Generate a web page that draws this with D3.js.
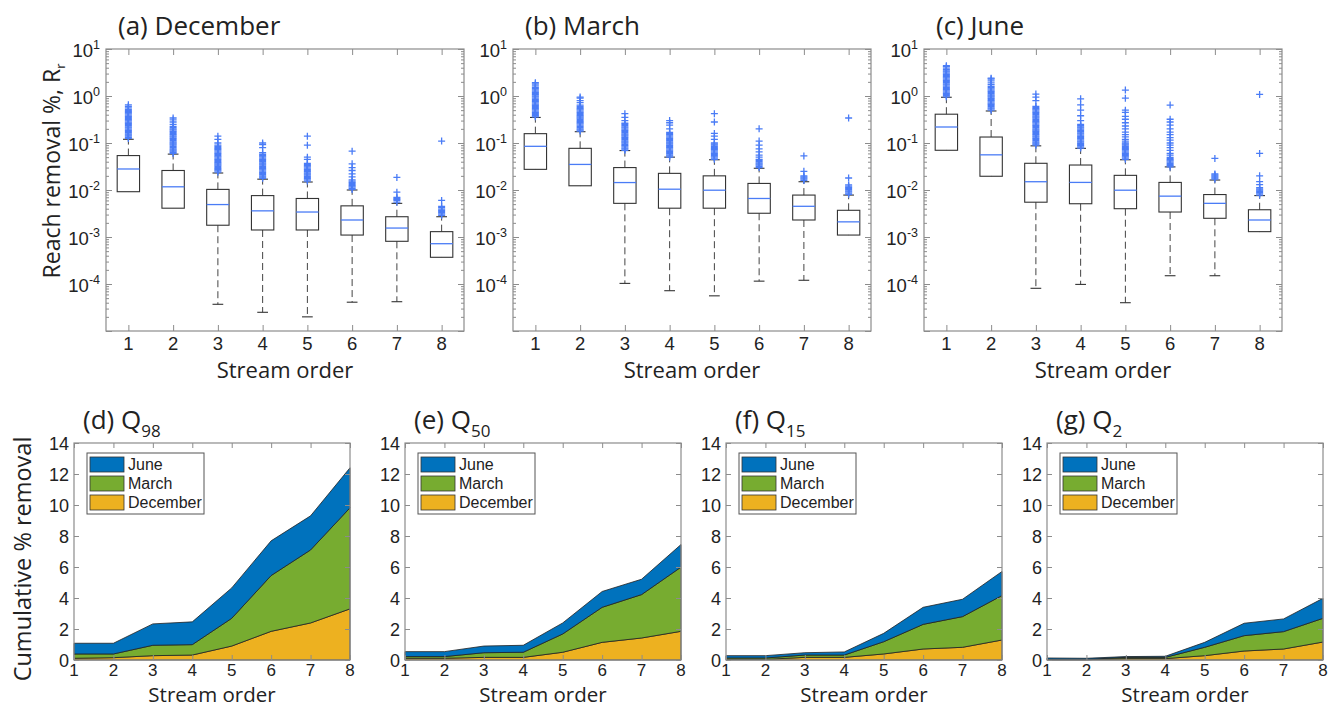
<!DOCTYPE html>
<html>
<head>
<meta charset="utf-8">
<script src="https://cdn.jsdelivr.net/npm/d3@7"></script>
<style>
  body { margin: 0; background: #fff; }
  svg { display: block; }
</style>
</head>
<body>
<div id="chart"></div>
<script>
// ---------------------------
// data
// ---------------------------
const orders = [1, 2, 3, 4, 5, 6, 7, 8];
const months = ["December", "March", "June"];

// (a) December box stats, per stream order
const decQ1  = [0.0092, 0.0041, 0.00178, 0.00141, 0.00141, 0.0011, 0.00081, 0.00037];
const decMed = [0.028, 0.0117, 0.0049, 0.0036, 0.0034, 0.0023, 0.00155, 0.00072];
const decQ3  = [0.054, 0.026, 0.0103, 0.0076, 0.0066, 0.0046, 0.0027, 0.0013];
const decLo  = [0.0092, 0.0041, 3.7e-5, 2.5e-5, 2.0e-5, 4.1e-5, 4.2e-5, 0.00037];
const decHi  = [0.12, 0.058, 0.023, 0.017, 0.0148, 0.01, 0.0052, 0.0027];
const decOut = [
  [0.125,0.132,0.14,0.148,0.157,0.166,0.176,0.186,0.197,0.209,0.221,0.234,0.248,0.263,0.278,0.295,0.312,0.33,0.35,0.37,0.39,0.415,0.44,0.465,0.49,0.52,0.56,0.6,0.65],
  [0.06,0.0635,0.067,0.071,0.075,0.08,0.085,0.09,0.095,0.1,0.106,0.112,0.119,0.126,0.133,0.141,0.15,0.159,0.168,0.178,0.19,0.2,0.212,0.225,0.25,0.28,0.31,0.34],
  [0.024,0.0254,0.027,0.0285,0.03,0.032,0.034,0.036,0.038,0.04,0.0425,0.045,0.0477,0.0505,0.0535,0.057,0.06,0.064,0.068,0.072,0.076,0.08,0.085,0.09,0.1,0.12,0.14],
  [0.0178,0.0189,0.02,0.0212,0.0225,0.0238,0.0252,0.0267,0.0283,0.03,0.0318,0.0337,0.0357,0.0378,0.04,0.0425,0.045,0.0477,0.0505,0.0535,0.057,0.062,0.08,0.092,0.1],
  [0.0155,0.0164,0.0174,0.0184,0.0195,0.0207,0.0219,0.0232,0.0246,0.026,0.0276,0.0292,0.031,0.0328,0.0348,0.037,0.045,0.05,0.09,0.14],
  [0.0103,0.0109,0.0116,0.0123,0.013,0.0138,0.0146,0.0155,0.0164,0.019,0.022,0.026,0.03,0.036,0.067],
  [0.0055,0.006,0.0063,0.0066,0.007,0.009,0.0185],
  [0.0029,0.0031,0.0033,0.0035,0.0037,0.0039,0.0042,0.0045,0.006,0.11]
];

// (b) March
const marQ1  = [0.0275, 0.0123, 0.0052, 0.0041, 0.0041, 0.0032, 0.0023, 0.0011];
const marMed = [0.085, 0.035, 0.0144, 0.0104, 0.0099, 0.0066, 0.0045, 0.0021];
const marQ3  = [0.158, 0.077, 0.030, 0.0226, 0.020, 0.0138, 0.0078, 0.0037];
const marLo  = [0.0275, 0.0123, 1.03e-4, 7.2e-5, 5.6e-5, 1.15e-4, 1.2e-4, 0.0011];
const marHi  = [0.35, 0.174, 0.069, 0.050, 0.044, 0.029, 0.015, 0.0078];
const marOut = [
  [0.36,0.38,0.4,0.425,0.45,0.477,0.505,0.535,0.567,0.6,0.636,0.674,0.714,0.757,0.8,0.85,0.9,0.955,1.01,1.07,1.13,1.2,1.27,1.35,1.43,1.52,1.65,1.8,1.92],
  [0.18,0.19,0.2,0.213,0.226,0.24,0.254,0.27,0.285,0.3,0.32,0.34,0.36,0.38,0.4,0.425,0.45,0.477,0.505,0.535,0.567,0.6,0.64,0.72,0.8,0.9,0.95],
  [0.07,0.074,0.078,0.083,0.088,0.093,0.099,0.105,0.111,0.118,0.125,0.132,0.14,0.148,0.157,0.166,0.176,0.186,0.197,0.209,0.221,0.234,0.248,0.263,0.3,0.35,0.42],
  [0.05,0.053,0.056,0.0595,0.063,0.0668,0.0708,0.075,0.0795,0.0843,0.0893,0.0947,0.1,0.106,0.112,0.119,0.126,0.134,0.142,0.15,0.159,0.168,0.2,0.24,0.27,0.3],
  [0.045,0.0477,0.0505,0.0535,0.057,0.06,0.064,0.068,0.072,0.076,0.08,0.085,0.09,0.095,0.1,0.12,0.14,0.16,0.28,0.42],
  [0.03,0.0318,0.0337,0.0357,0.0378,0.04,0.0425,0.045,0.05,0.055,0.065,0.075,0.09,0.11,0.2],
  [0.016,0.017,0.018,0.019,0.02,0.025,0.053],
  [0.0081,0.0086,0.0091,0.0096,0.0102,0.0108,0.0114,0.0121,0.0128,0.018,0.34]
];

// (c) June
const junQ1  = [0.070, 0.0196, 0.0055, 0.0051, 0.0040, 0.0034, 0.0025, 0.0013];
const junMed = [0.219, 0.056, 0.015, 0.0145, 0.0099, 0.0074, 0.0052, 0.0023];
const junQ3  = [0.41, 0.134, 0.037, 0.034, 0.0205, 0.0145, 0.0080, 0.0038];
const junLo  = [0.070, 0.0196, 8.1e-5, 9.8e-5, 4.0e-5, 1.5e-4, 1.5e-4, 0.0013];
const junHi  = [0.94, 0.48, 0.087, 0.077, 0.044, 0.031, 0.0163, 0.0076];
const junOut = [
  [0.96,1.02,1.08,1.14,1.21,1.28,1.36,1.44,1.53,1.62,1.72,1.82,1.93,2.04,2.16,2.29,2.43,2.57,2.73,2.89,3.06,3.25,3.44,3.65,3.9,4.2,4.4],
  [0.5,0.53,0.56,0.595,0.63,0.668,0.708,0.75,0.795,0.843,0.893,0.947,1.0,1.06,1.12,1.19,1.26,1.34,1.42,1.5,1.6,1.75,1.9,2.1,2.3,2.4],
  [0.09,0.095,0.1,0.106,0.112,0.119,0.126,0.133,0.141,0.15,0.159,0.168,0.178,0.189,0.2,0.212,0.225,0.238,0.252,0.267,0.283,0.3,0.318,0.337,0.357,0.378,0.4,0.425,0.45,0.477,0.505,0.535,0.567,0.6,0.8,0.95,1.1],
  [0.078,0.0827,0.0877,0.093,0.0985,0.104,0.11,0.117,0.124,0.131,0.139,0.147,0.156,0.165,0.175,0.186,0.197,0.209,0.221,0.234,0.25,0.3,0.38,0.5,0.65,0.87],
  [0.045,0.0477,0.0505,0.0535,0.057,0.06,0.064,0.068,0.072,0.076,0.08,0.085,0.09,0.095,0.1,0.11,0.12,0.135,0.15,0.17,0.2,0.23,0.27,0.32,0.37,0.45,0.5,0.9,1.34],
  [0.031,0.0329,0.0348,0.0369,0.0391,0.0415,0.044,0.0466,0.0494,0.055,0.06,0.07,0.08,0.09,0.1,0.115,0.13,0.15,0.17,0.2,0.24,0.28,0.32,0.64],
  [0.017,0.018,0.019,0.02,0.021,0.022,0.047],
  [0.0078,0.0083,0.0088,0.0094,0.01,0.0106,0.0112,0.013,0.015,0.02,0.06,1.08]
];

// (d)-(g) stacked cumulative % removal, layer thickness per month
const q98Dec = [0.11, 0.15, 0.28, 0.32, 0.90, 1.85, 2.39, 3.30];
const q98Mar = [0.28, 0.24, 0.67, 0.67, 1.79, 3.60, 4.71, 6.52];
const q98Jun = [0.69, 0.69, 1.38, 1.47, 1.96, 2.24, 2.20, 2.58];

const q50Dec = [0.11, 0.11, 0.17, 0.17, 0.50, 1.14, 1.42, 1.85];
const q50Mar = [0.11, 0.11, 0.30, 0.33, 1.18, 2.26, 2.80, 4.14];
const q50Jun = [0.32, 0.32, 0.43, 0.45, 0.71, 1.02, 0.99, 1.46];

const q15Dec = [0.04, 0.04, 0.17, 0.17, 0.39, 0.71, 0.82, 1.29];
const q15Mar = [0.09, 0.09, 0.15, 0.15, 0.79, 1.59, 1.98, 2.87];
const q15Jun = [0.15, 0.15, 0.15, 0.20, 0.54, 1.10, 1.12, 1.55];

const q2Dec = [0.02, 0.02, 0.09, 0.09, 0.28, 0.58, 0.71, 1.16];
const q2Mar = [0.02, 0.02, 0.08, 0.08, 0.54, 0.99, 1.12, 1.53];
const q2Jun = [0.09, 0.07, 0.05, 0.07, 0.32, 0.80, 0.82, 1.29];

const cumTicks = [0, 2, 4, 6, 8, 10, 12, 14];

// ---------------------------
// styling
// ---------------------------
const colors = { December: "#EDB120", March: "#77AC30", June: "#0072BD" };
const outBlue = "#4a7cf6";
const frameCol = "#8c8c8c";
const labelFont = "'Open Sans', 'Noto Sans', sans-serif";
const tickFont = "'Liberation Sans', Arial, sans-serif";

const svg = d3.select("#chart")
  .append("svg")
  .attr("width", 1328)
  .attr("height", 708)
  .attr("viewBox", [0, 0, 1328, 708]);

svg.append("rect").attr("width", 1328).attr("height", 708).attr("fill", "#fff");

// top row
const topCfg = { top: 49, width: 358, height: 282 };
make_boxPanel({ ...topCfg, left: 106 }, "(a) December",
  { q1: decQ1, med: decMed, q3: decQ3, lo: decLo, hi: decHi, out: decOut }, true);
make_boxPanel({ ...topCfg, left: 513 }, "(b) March",
  { q1: marQ1, med: marMed, q3: marQ3, lo: marLo, hi: marHi, out: marOut }, false);
make_boxPanel({ ...topCfg, left: 924 }, "(c) June",
  { q1: junQ1, med: junMed, q3: junQ3, lo: junLo, hi: junHi, out: junOut }, false);

// bottom row
const botCfg = { top: 443, width: 276, height: 217 };
make_areaPanel({ ...botCfg, left: 74 }, "(d) Q", "98", [q98Dec, q98Mar, q98Jun], true);
make_areaPanel({ ...botCfg, left: 405 }, "(e) Q", "50", [q50Dec, q50Mar, q50Jun], false);
make_areaPanel({ ...botCfg, left: 726 }, "(f) Q", "15", [q15Dec, q15Mar, q15Jun], false);
make_areaPanel({ ...botCfg, left: 1047 }, "(g) Q", "2", [q2Dec, q2Mar, q2Jun], false);


function make_boxPanel(cfg, title, st, withYLabel) {
  const x = d3.scaleLinear([0.5, 8.5], [cfg.left, cfg.left + cfg.width]);
  const y = d3.scaleLog([1e-5, 10], [cfg.top + cfg.height, cfg.top]);
  const g = svg.append("g");

  // log ticks
  const major = d3.range(-5, 2).map(k => Math.pow(10, k));
  const minor = [];
  for (let k = -5; k < 1; k++) {
    for (let m = 2; m <= 9; m++) minor.push(m * Math.pow(10, k));
  }

  svg_ticks(g, d3.axisLeft(y).tickValues(major).tickSizeInner(-6), `translate(${cfg.left},0)`);
  svg_ticks(g, d3.axisLeft(y).tickValues(minor).tickSizeInner(-3), `translate(${cfg.left},0)`);
  svg_ticks(g, d3.axisRight(y).tickValues(major).tickSizeInner(-6), `translate(${cfg.left + cfg.width},0)`);
  svg_ticks(g, d3.axisRight(y).tickValues(minor).tickSizeInner(-3), `translate(${cfg.left + cfg.width},0)`);
  svg_ticks(g, d3.axisBottom(x).tickValues(orders).tickSizeInner(-6), `translate(0,${cfg.top + cfg.height})`);
  svg_ticks(g, d3.axisTop(x).tickValues(orders).tickSizeInner(-6), `translate(0,${cfg.top})`);

  // frame
  g.append("rect")
    .attr("x", cfg.left).attr("y", cfg.top)
    .attr("width", cfg.width).attr("height", cfg.height)
    .attr("fill", "none").attr("stroke", frameCol).attr("stroke-width", 1.2);

  // y labels 10^k
  const yl = g.append("g")
    .selectAll("text")
    .data(d3.range(-4, 2))
    .join("text")
    .attr("x", cfg.left - 6)
    .attr("y", k => y(Math.pow(10, k)) + 8)
    .attr("text-anchor", "end")
    .style("font-family", tickFont)
    .style("font-size", "18.5px")
    .attr("fill", "#222");
  yl.append("tspan").text("10");
  yl.append("tspan").attr("dy", -8).style("font-size", "12.5px").text(k => k < 0 ? "-" + (-k) : "" + k);

  // x labels
  g.append("g")
    .selectAll("text")
    .data(orders)
    .join("text")
    .attr("x", d => x(d))
    .attr("y", cfg.top + cfg.height + 19)
    .attr("text-anchor", "middle")
    .style("font-family", tickFont)
    .style("font-size", "18.5px")
    .attr("fill", "#222")
    .text(d => d);

  g.append("text")
    .attr("x", cfg.left + cfg.width / 2)
    .attr("y", 378)
    .attr("text-anchor", "middle")
    .style("font-family", labelFont)
    .style("font-size", "22px")
    .attr("fill", "#222")
    .text("Stream order");

  g.append("text")
    .attr("x", cfg.left + 12)
    .attr("y", 35)
    .style("font-family", labelFont)
    .style("font-size", "26px")
    .attr("fill", "#222")
    .text(title);

  if (withYLabel) {
    const t = g.append("text")
      .attr("transform", `translate(60,${cfg.top + 122}) rotate(-90)`)
      .attr("text-anchor", "middle")
      .style("font-family", labelFont)
      .style("font-size", "23px")
      .attr("fill", "#222");
    t.append("tspan").text("Reach removal %, R");
    t.append("tspan").attr("dy", 5).style("font-size", "13px").text("r");
  }

  // boxes
  const bw = 0.25, cw = 0.12;
  const boxes = g.append("g").selectAll("g").data(orders).join("g");

  // whiskers (dashed)
  boxes.append("line")
    .attr("x1", d => x(d)).attr("x2", d => x(d))
    .attr("y1", (d, i) => y(st.q3[i])).attr("y2", (d, i) => y(st.hi[i]))
    .attr("stroke", "#444").attr("stroke-width", 1).attr("stroke-dasharray", "7,4");
  boxes.append("line")
    .attr("x1", d => x(d)).attr("x2", d => x(d))
    .attr("y1", (d, i) => y(st.q1[i])).attr("y2", (d, i) => y(st.lo[i]))
    .attr("stroke", "#444").attr("stroke-width", 1).attr("stroke-dasharray", "7,4");

  // caps
  boxes.append("line")
    .attr("x1", d => x(d - cw)).attr("x2", d => x(d + cw))
    .attr("y1", (d, i) => y(st.hi[i])).attr("y2", (d, i) => y(st.hi[i]))
    .attr("stroke", "#333").attr("stroke-width", 1.1);
  boxes.filter((d, i) => st.lo[i] < st.q1[i])
    .append("line")
    .attr("x1", d => x(d - cw)).attr("x2", d => x(d + cw))
    .attr("y1", d => y(st.lo[d - 1])).attr("y2", d => y(st.lo[d - 1]))
    .attr("stroke", "#333").attr("stroke-width", 1.1);

  boxes.append("rect")
    .attr("x", d => x(d - bw))
    .attr("width", x(1 + bw) - x(1 - bw))
    .attr("y", (d, i) => y(st.q3[i]))
    .attr("height", (d, i) => y(st.q1[i]) - y(st.q3[i]))
    .attr("fill", "none").attr("stroke", "#333").attr("stroke-width", 1.1);

  boxes.append("line")
    .attr("x1", d => x(d - bw)).attr("x2", d => x(d + bw))
    .attr("y1", (d, i) => y(st.med[i])).attr("y2", (d, i) => y(st.med[i]))
    .attr("stroke", outBlue).attr("stroke-width", 1.3);

  // outliers as + marks
  boxes.append("g")
    .selectAll("path")
    .data((d, i) => st.out[i].map(v => [d, v]))
    .join("path")
    .attr("d", p => {
      const cx = x(p[0]), cy = y(p[1]), s = 3.5;
      return `M${cx - s},${cy}H${cx + s}M${cx},${cy - s}V${cy + s}`;
    })
    .attr("stroke", outBlue).attr("stroke-width", 1.3).attr("fill", "none");
}


function make_areaPanel(cfg, title, sub, layers, withYLabel) {
  const x = d3.scaleLinear([1, 8], [cfg.left, cfg.left + cfg.width]);
  const y = d3.scaleLinear([0, 14], [cfg.top + cfg.height, cfg.top]);
  const g = svg.append("g");

  // prepare stacked rows
  const rows = orders.map((o, i) => ({
    order: o, December: layers[0][i], March: layers[1][i], June: layers[2][i]
  }));
  const series = d3.stack().keys(months)(rows);

  const area = d3.area()
    .x(d => x(d.data.order))
    .y0(d => y(d[0]))
    .y1(d => y(d[1]))
    .curve(d3.curveLinear);

  g.append("g")
    .selectAll("path")
    .data(series)
    .join("path")
    .attr("d", area)
    .attr("fill", d => colors[d.key])
    .attr("stroke", "#222")
    .attr("stroke-width", 0.8);

  // ticks inside on all sides
  svg_ticks(g, d3.axisLeft(y).tickValues(cumTicks).tickSizeInner(-5), `translate(${cfg.left},0)`);
  svg_ticks(g, d3.axisRight(y).tickValues(cumTicks).tickSizeInner(-5), `translate(${cfg.left + cfg.width},0)`);
  svg_ticks(g, d3.axisBottom(x).tickValues(orders).tickSizeInner(-5), `translate(0,${cfg.top + cfg.height})`);
  svg_ticks(g, d3.axisTop(x).tickValues(orders).tickSizeInner(-5), `translate(0,${cfg.top})`);

  g.append("rect")
    .attr("x", cfg.left).attr("y", cfg.top)
    .attr("width", cfg.width).attr("height", cfg.height)
    .attr("fill", "none").attr("stroke", frameCol).attr("stroke-width", 1.2);

  g.append("g")
    .selectAll("text")
    .data(cumTicks)
    .join("text")
    .attr("x", cfg.left - 5)
    .attr("y", d => y(d) + 6.5)
    .attr("text-anchor", "end")
    .style("font-family", tickFont)
    .style("font-size", "18px")
    .attr("fill", "#222")
    .text(d => d);

  g.append("g")
    .selectAll("text")
    .data(orders)
    .join("text")
    .attr("x", d => x(d))
    .attr("y", cfg.top + cfg.height + 16)
    .attr("text-anchor", "middle")
    .style("font-family", tickFont)
    .style("font-size", "17px")
    .attr("fill", "#222")
    .text(d => d);

  g.append("text")
    .attr("x", cfg.left + cfg.width / 2)
    .attr("y", 701.5)
    .attr("text-anchor", "middle")
    .style("font-family", labelFont)
    .style("font-size", "20.5px")
    .attr("fill", "#222")
    .text("Stream order");

  const tt = g.append("text")
    .attr("x", cfg.left + 9)
    .attr("y", 429)
    .style("font-family", labelFont)
    .style("font-size", "26px")
    .attr("fill", "#222");
  tt.append("tspan").text(title);
  tt.append("tspan").attr("dy", 8).style("font-size", "17px").text(sub);

  if (withYLabel) {
    g.append("text")
      .attr("transform", `translate(31,${cfg.top + 116}) rotate(-90)`)
      .attr("text-anchor", "middle")
      .style("font-family", labelFont)
      .style("font-size", "23.5px")
      .attr("fill", "#222")
      .text("Cumulative % removal");
  }

  svg_legend(g, cfg.left + 13, cfg.top + 10);
}


function svg_legend(parent, lx, ly) {
  const leg = parent.append("g").attr("transform", `translate(${lx},${ly})`);
  leg.append("rect")
    .attr("width", 117).attr("height", 61)
    .attr("fill", "#fff").attr("stroke", "#555").attr("stroke-width", 1);

  const items = months.slice().reverse();
  const rowsG = leg.selectAll("g").data(items).join("g")
    .attr("transform", (d, i) => `translate(3,${4 + i * 19})`);
  rowsG.append("rect")
    .attr("width", 34).attr("height", 15)
    .attr("fill", d => colors[d]).attr("stroke", "#333").attr("stroke-width", 0.8);
  rowsG.append("text")
    .attr("x", 38).attr("y", 13)
    .style("font-family", tickFont)
    .style("font-size", "16px")
    .attr("fill", "#222")
    .text(d => d);
}


function svg_ticks(parent, axis, transform) {
  return parent
    .append("g")
    .attr("transform", transform)
    .call(axis.tickSizeOuter(0).tickFormat(""))
    .call(a => a.select(".domain").remove())
    .call(a => a.selectAll("line").attr("stroke", frameCol).attr("stroke-width", 1));
}
</script>
</body>
</html>
